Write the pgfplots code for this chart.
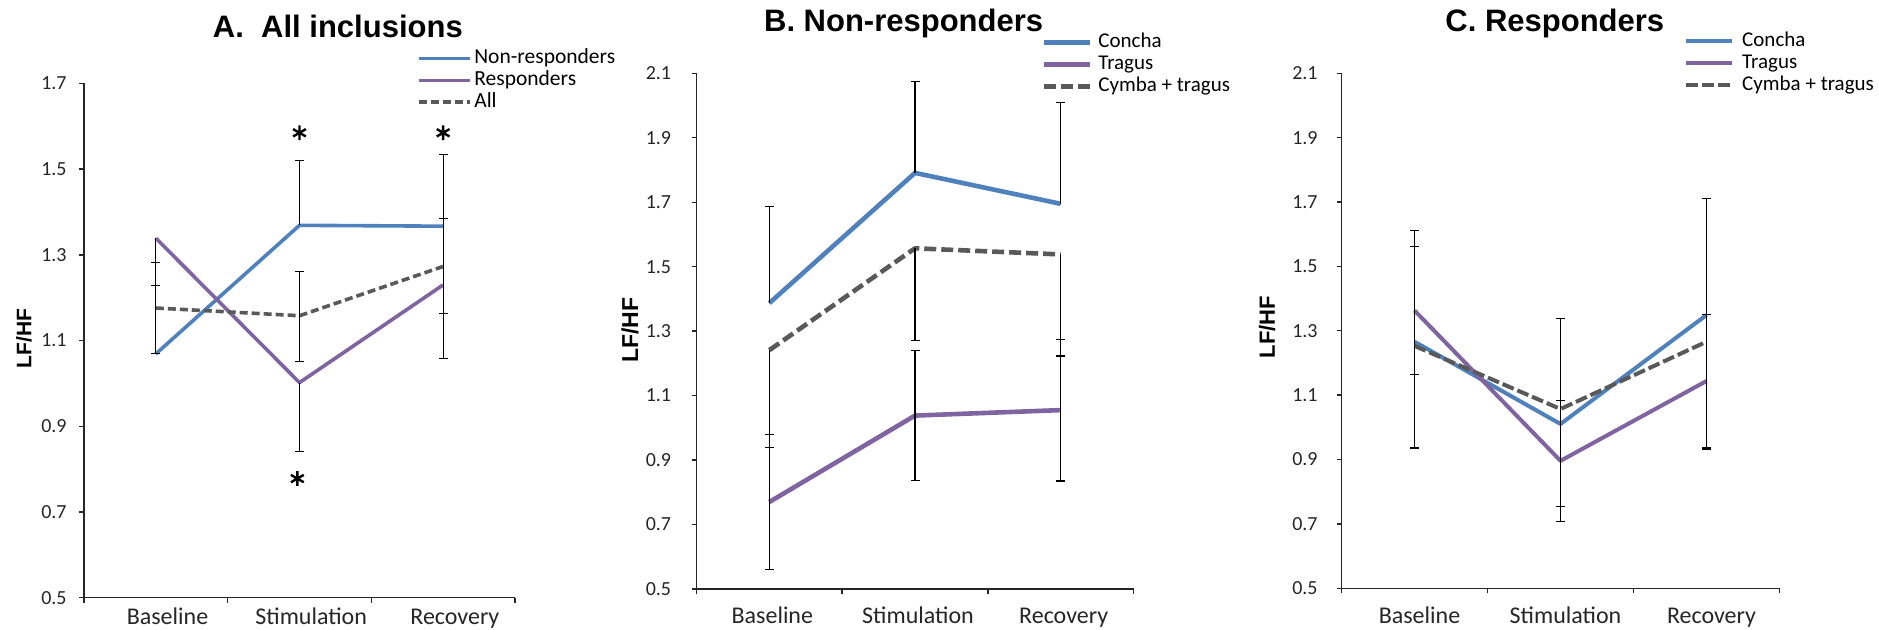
\documentclass[border=0pt]{standalone}
\usepackage{fontspec}
\setmainfont{Carlito}
\newfontfamily\arialfont{Liberation Sans}
\usepackage{pgfplots}
\pgfplotsset{compat=1.18}
\definecolor{cblue}{HTML}{4F81BD}
\definecolor{cpurp}{HTML}{8064A2}
\definecolor{cgray}{HTML}{595959}
\pgfplotsset{
  every axis title shift=0pt,
  panel/.style={
    scale only axis,
    axis lines=left,
    axis line style={-, line width=0.7pt, black!85},
    xmin=0.5, xmax=3.5, ymin=0.5,
    xtick={0.5,1.5,2.5,3.5}, xticklabels={},
    extra x ticks={1,2,3},
    extra x tick labels={Baseline,Stimulation,Recovery},
    extra x tick style={major tick length=0pt},
    tick align=outside,
    major tick length=2.5pt,
    minor tick num=0,
    tick style={line width=0.7pt, black!85},
    /pgf/number format/fixed,
    /pgf/number format/fixed zerofill,
    /pgf/number format/precision=1,
    /pgf/number format/assume math mode=true,
    yticklabel style={font=\fontsize{10}{12}\selectfont, anchor=east, inner sep=0pt, text=black!85},
    xticklabel style={font=\fontsize{12}{14}\selectfont, anchor=base, inner sep=0pt, text=black!85},
    ylabel={LF/HF},
    ylabel style={font=\arialfont\bfseries\fontsize{10.5}{12}\selectfont, anchor=center, rotate=0},
    title style={font=\arialfont\bfseries\fontsize{15.5}{18}\selectfont, anchor=base, yshift=0pt},
    legend cell align=left,
    error bars/error bar style={line width=0.6pt, black, solid},
    error bars/error mark options={rotate=90, mark size=2.25pt, line width=0.6pt, black, solid},
    line join=round,
  }
}
\begin{document}
\begin{tikzpicture}
\useasboundingbox (0,0) rectangle (939.5pt,315pt);
% ---------------- Panel A ----------------
\begin{axis}[panel,
  at={(42pt,16.15pt)}, anchor=south west,
  width=215.5pt, height=257.1pt,
  ymax=1.7, ytick={0.5,0.7,...,1.71},
  yticklabel style={xshift=-6pt},
  xticklabel style={yshift=-13.65pt, xshift=5.85pt},
  ylabel style={at={(axis description cs:-0.139,0.504)}},
  title={A.\ \ All inclusions},
  title style={at={(axis description cs:0.589,1.0904)}},
  legend style={draw=none, fill=none, at={(0.772,1.068)}, anchor=north west,
    font=\fontsize{10.75}{12}\selectfont, inner sep=0pt, outer sep=0pt,
    row sep=0.75pt, column sep=1.2pt,
    nodes={inner sep=0pt, text height=7.6pt, text depth=2.5pt, anchor=west}},
  legend image code/.code={\draw[#1] (0pt,0pt) -- (25.8pt,0pt);},
]
\addplot[cblue, line width=1.8pt, error bars/.cd, y dir=plus, y explicit]
  coordinates {(1,1.069) +- (0,0.159) (2,1.369) +- (0,0.152) (3,1.367) +- (0,0.168)};
\addlegendentry{Non-responders}
\addplot[cpurp, line width=1.8pt, error bars/.cd, y dir=minus, y explicit]
  coordinates {(1,1.339) +- (0,0.056) (2,1.002) +- (0,0.160) (3,1.230) +- (0,0.172)};
\addlegendentry{Responders}
\addplot[cgray, line width=1.8pt, dash pattern=on 4pt off 2pt, error bars/.cd, y dir=both, y explicit]
  coordinates {(1,1.176) += (0,0.107) -= (0,0.107) (2,1.158) += (0,0.103) -= (0,0.106) (3,1.273) += (0,0.111) -= (0,0.110)};
\addlegendentry{All}
\addplot[forget plot, only marks, mark=asterisk, mark size=3.7pt, line width=1.2pt, black]
  coordinates {(2,1.585) (3,1.585) (1.985,0.778)};
\end{axis}
% ---------------- Panel B ----------------
\begin{axis}[panel,
  at={(348.25pt,20.5pt)}, anchor=south west,
  width=218.5pt, height=257.85pt,
  ymax=2.1, ytick={0.5,0.7,...,2.11},
  yticklabel style={xshift=-10pt},
  xticklabel style={yshift=-17.5pt, xshift=1.5pt},
  ylabel style={at={(axis description cs:-0.152,0.502)}, font=\arialfont\bfseries\fontsize{11.5}{12}\selectfont},
  title={B. Non-responders},
  title style={at={(axis description cs:0.474,1.0801)}},
  legend style={draw=none, fill=none, at={(0.790,1.0793)}, anchor=north west,
    font=\fontsize{10.5}{12}\selectfont, inner sep=0pt, outer sep=0pt,
    row sep=0.9pt, column sep=3.1pt,
    nodes={inner sep=0pt, text height=7.6pt, text depth=2.5pt, anchor=west}},
  legend image code/.code={\draw[#1] (0pt,0pt) -- (22.9pt,0pt);},
]
\addplot[cblue, line width=2.3pt, error bars/.cd, y dir=plus, y explicit]
  coordinates {(1,1.387) +- (0,0.300) (2,1.791) +- (0,0.284) (3,1.695) +- (0,0.314)};
\addlegendentry{Concha}
\addplot[cpurp, line width=2.3pt, error bars/.cd, y dir=both, y explicit]
  coordinates {(1,0.770) +- (0,0.210) (2,1.038) +- (0,0.202) (3,1.055) +- (0,0.220)};
\addlegendentry{Tragus}
\addplot[cgray, line width=2.3pt, dash pattern=on 6pt off 2.5pt, error bars/.cd, y dir=minus, y explicit]
  coordinates {(1,1.241) +- (0,0.301) (2,1.557) +- (0,0.286) (3,1.538) +- (0,0.315)};
\addlegendentry{Cymba + tragus}
\end{axis}
% ---------------- Panel C ----------------
\begin{axis}[panel,
  at={(670.75pt,20.85pt)}, anchor=south west,
  width=219pt, height=257.5pt,
  ymax=2.1, ytick={0.5,0.7,...,2.11},
  yticklabel style={xshift=-9.25pt},
  xticklabel style={yshift=-17.5pt, xshift=2.5pt},
  ylabel style={at={(axis description cs:-0.170,0.507)}, font=\arialfont\bfseries\fontsize{11}{12}\selectfont},
  title={C. Responders},
  title style={at={(axis description cs:0.487,1.0802)}},
  legend style={draw=none, fill=none, at={(0.782,1.0818)}, anchor=north west,
    font=\fontsize{10.5}{12}\selectfont, inner sep=0pt, outer sep=0pt,
    row sep=0.9pt, column sep=4.1pt,
    nodes={inner sep=0pt, text height=7.6pt, text depth=2.5pt, anchor=west}},
  legend image code/.code={\draw[#1] (0pt,0pt) -- (23pt,0pt);},
]
\addplot[cblue, line width=2pt, error bars/.cd, y dir=plus, y explicit]
  coordinates {(1,1.266) +- (0,0.345) (2,1.0105) +- (0,0.328) (3,1.349) +- (0,0.361)};
\addlegendentry{Concha}
\addplot[cpurp, line width=2pt, error bars/.cd, y dir=both, y explicit]
  coordinates {(1,1.363) +- (0,0.200) (2,0.896) +- (0,0.188) (3,1.144) +- (0,0.206)};
\addlegendentry{Tragus}
\addplot[cgray, line width=2pt, dash pattern=on 6pt off 2pt, error bars/.cd, y dir=minus, y explicit]
  coordinates {(1,1.253) +- (0,0.317) (2,1.057) +- (0,0.304) (3,1.266) +- (0,0.333)};
\addlegendentry{Cymba + tragus}
\end{axis}
\end{tikzpicture}
\end{document}
